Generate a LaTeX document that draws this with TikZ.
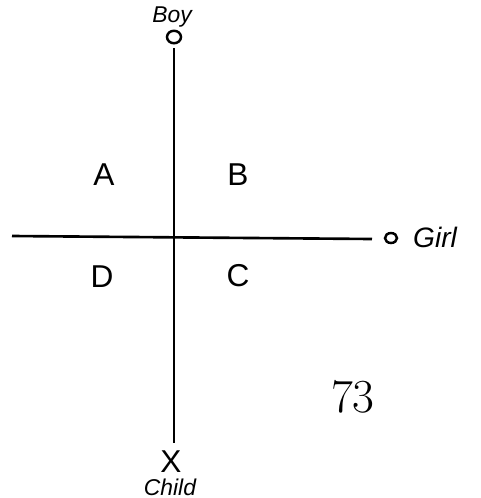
\documentclass[tikz,border=0pt]{standalone}
\usepackage{fontspec}
\setsansfont{Liberation Sans}
\usetikzlibrary{positioning,shapes.geometric}
\tikzset{
  quad/.style={font=\sffamily\fontsize{18}{18}\selectfont,inner sep=1pt},
  tag/.style={font=\sffamily\itshape\fontsize{16}{16}\selectfont,inner sep=1pt},
  pole/.style={draw,ellipse,line width=1.4pt,inner sep=0pt},
  axis/.style={line width=1.5pt}
}
\begin{document}
\begin{tikzpicture}[x=0.02cm,y=-0.02cm]
\useasboundingbox (0,0) rectangle (481,498);
\node[tag,font=\sffamily\itshape\fontsize{13}{13}\selectfont] (boy) at (172,17) {Boy};
\node[pole,minimum width=0.28cm,minimum height=0.25cm] (top) at (174,37) {};
\node[pole,minimum width=0.24cm,minimum height=0.2cm] (right) at (391,238) {};
\node[tag] (girl) at (435,237) {Girl};
\node[quad] (qa) at (104,175) {A};
\node[quad] (qb) at (238,175) {B};
\node[quad] (qd) at (102,277) {D};
\node[quad] (qc) at (238,276) {C};
\node[font=\fontsize{27}{27}\selectfont,inner sep=0pt] (page) at (353,397) {73};
\node[font=\sffamily\fontsize{18}{18}\selectfont,inner sep=0pt] (bottom) at (171,462) {X};
\node[tag,font=\sffamily\itshape\fontsize{13}{13}\selectfont,anchor=south] (child) at (170,498) {Child};
\coordinate (vt) at (174,48);
\coordinate (vb) at (174,443);
\coordinate (hl) at (12,236);
\coordinate (hr) at (372,239);
\draw[axis] (vt) -- (vb);
\draw[axis] (hl) -- (hr);
\end{tikzpicture}
\end{document}
